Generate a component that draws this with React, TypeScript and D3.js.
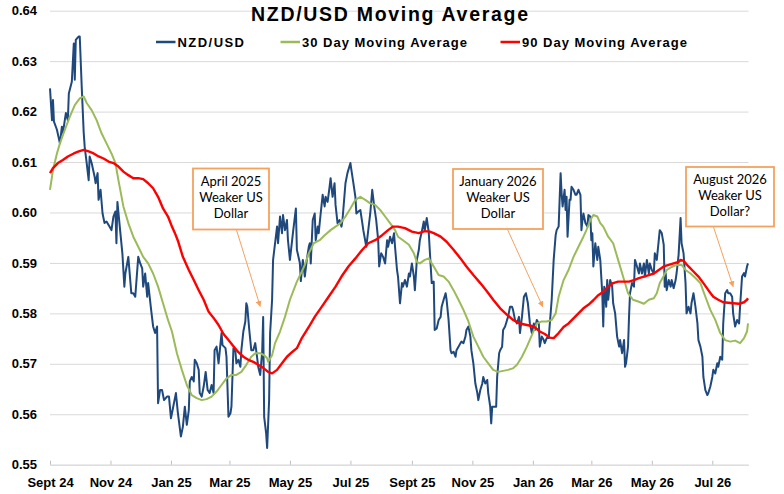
import React, { useEffect, useRef } from "react";
import * as d3 from "d3";

// series start; every point below is [days since START, rate]
const START = new Date(2024, 8, 1);
const LAST_DAY = 704.5;

const nzdusd: [number, number][] = [
  [0, 0.6246], [2, 0.6183], [3, 0.6223], [4, 0.618], [7, 0.6164], [10, 0.6137], [12, 0.617], [13, 0.6158],
  [16, 0.6197], [18, 0.6183], [19, 0.6236], [22, 0.6259], [24, 0.6335], [25, 0.6263], [26, 0.6342], [29, 0.6349],
  [30, 0.6349], [32, 0.6249], [34, 0.6158], [35, 0.613], [37, 0.6098], [39, 0.6064], [40, 0.6111], [42, 0.6098],
  [45, 0.6071], [46, 0.6058], [48, 0.6078], [49, 0.6025], [51, 0.6045], [53, 0.5998], [55, 0.5979], [57, 0.5982],
  [60, 0.5972], [62, 0.5965], [64, 0.5992], [66, 0.6002], [67, 0.5939], [68, 0.6021], [71, 0.5959], [73, 0.5919],
  [75, 0.5853], [76, 0.5879], [79, 0.5912], [82, 0.584], [84, 0.584], [86, 0.5833], [89, 0.5912], [91, 0.5899],
  [93, 0.5889], [94, 0.5853], [96, 0.5879], [98, 0.5833], [99, 0.586], [102, 0.5807], [104, 0.5774], [106, 0.5761],
  [108, 0.5774], [109, 0.5622], [111, 0.5648], [113, 0.5648], [115, 0.5628], [118, 0.5635], [120, 0.5635], [122, 0.5592],
  [124, 0.5612], [127, 0.5642], [129, 0.5602], [132, 0.5556], [134, 0.5575], [136, 0.5615], [138, 0.5579], [140, 0.5608],
  [141, 0.5665], [143, 0.5674], [145, 0.5665], [146, 0.5708], [148, 0.5701], [150, 0.5688], [151, 0.5642], [153, 0.5635],
  [155, 0.5655], [157, 0.5684], [159, 0.5648], [161, 0.5642], [163, 0.5658], [165, 0.5642], [166, 0.5727], [168, 0.5734],
  [170, 0.5701], [172, 0.5741], [173, 0.5761], [174, 0.5737], [177, 0.5731], [178, 0.5714], [180, 0.5595], [182, 0.5602],
  [183, 0.5615], [185, 0.5731], [187, 0.5724], [188, 0.5701], [190, 0.5708], [192, 0.5694], [193, 0.5727], [195, 0.5764],
  [197, 0.5784], [198, 0.582], [199, 0.5813], [201, 0.5767], [203, 0.5727], [205, 0.5727], [207, 0.5741], [209, 0.5711],
  [210, 0.5694], [212, 0.5678], [214, 0.5724], [215, 0.5793], [216, 0.5595], [218, 0.5562], [219, 0.5533], [221, 0.5628],
  [222, 0.5761], [224, 0.5827], [225, 0.5906], [229, 0.5972], [230, 0.5939], [232, 0.5992], [234, 0.5959], [235, 0.5995],
  [237, 0.5965], [239, 0.5985], [240, 0.5945], [242, 0.5906], [245, 0.5959], [248, 0.6008], [249, 0.5926], [252, 0.59],
  [253, 0.5864], [255, 0.5906], [257, 0.5873], [259, 0.5906], [261, 0.5932], [262, 0.5939], [263, 0.5899], [265, 0.5985],
  [267, 0.5998], [268, 0.5945], [270, 0.5972], [271, 0.5959], [273, 0.5998], [275, 0.6035], [277, 0.6012], [278, 0.6031],
  [280, 0.6021], [282, 0.6051], [283, 0.6068], [285, 0.6031], [287, 0.6058], [288, 0.6015], [290, 0.5979], [292, 0.5985],
  [294, 0.5972], [295, 0.5985], [298, 0.6058], [300, 0.6078], [303, 0.6098], [304, 0.6084], [306, 0.6058], [308, 0.6031],
  [309, 0.5998], [311, 0.6002], [313, 0.6005], [315, 0.5979], [316, 0.5965], [319, 0.5932], [321, 0.5965], [323, 0.5998],
  [325, 0.6045], [327, 0.6012], [329, 0.5985], [331, 0.5945], [332, 0.5893], [334, 0.5919], [336, 0.5912], [338, 0.5899],
  [340, 0.5945], [341, 0.5932], [343, 0.5952], [345, 0.5939], [347, 0.5959], [348, 0.5932], [350, 0.5886], [351, 0.5873],
  [353, 0.582], [355, 0.586], [356, 0.5853], [358, 0.5866], [360, 0.5853], [362, 0.5879], [363, 0.5873], [365, 0.5899],
  [367, 0.5873], [368, 0.5846], [370, 0.5906], [372, 0.5926], [373, 0.5945], [375, 0.5962], [377, 0.5982], [378, 0.5965],
  [380, 0.5989], [382, 0.5961], [383, 0.5926], [385, 0.586], [387, 0.5863], [388, 0.5767], [390, 0.577], [392, 0.5787],
  [394, 0.5793], [395, 0.5813], [397, 0.5827], [399, 0.584], [400, 0.5827], [402, 0.5787], [404, 0.5727], [405, 0.5721],
  [407, 0.5724], [409, 0.5714], [410, 0.5727], [412, 0.5734], [414, 0.5741], [415, 0.5744], [417, 0.5741], [419, 0.5754],
  [420, 0.5767], [422, 0.5774], [424, 0.5754], [425, 0.5727], [427, 0.5701], [429, 0.5661], [431, 0.5642], [432, 0.5628],
  [434, 0.5648], [436, 0.5661], [437, 0.5674], [439, 0.5661], [441, 0.5668], [442, 0.5642], [444, 0.5615], [445, 0.5582],
  [446, 0.5615], [448, 0.5615], [450, 0.5615], [451, 0.5674], [453, 0.5721], [454, 0.5727], [456, 0.5734], [457, 0.5767],
  [459, 0.5774], [461, 0.5787], [462, 0.5793], [464, 0.5813], [466, 0.5813], [467, 0.5807], [469, 0.5787], [471, 0.578],
  [473, 0.5793], [474, 0.5761], [476, 0.5793], [478, 0.5833], [480, 0.584], [482, 0.582], [484, 0.578], [486, 0.5761],
  [488, 0.578], [489, 0.5767], [491, 0.5787], [493, 0.578], [494, 0.5734], [496, 0.5754], [498, 0.5747], [499, 0.5741],
  [501, 0.5751], [503, 0.5751], [504, 0.5777], [506, 0.5827], [508, 0.5906], [510, 0.5955], [511, 0.5965], [513, 0.5972],
  [515, 0.6078], [516, 0.6038], [517, 0.6012], [519, 0.6045], [520, 0.6005], [521, 0.6031], [522, 0.5952], [524, 0.6025],
  [525, 0.6025], [526, 0.6051], [528, 0.6045], [530, 0.6035], [531, 0.6035], [533, 0.6045], [535, 0.6035], [536, 0.5965],
  [537, 0.5985], [538, 0.5998], [540, 0.5979], [542, 0.5972], [543, 0.5995], [545, 0.5992], [546, 0.5945], [547, 0.5959],
  [548, 0.5893], [550, 0.5939], [552, 0.5906], [553, 0.5932], [555, 0.5906], [557, 0.584], [558, 0.5774], [559, 0.5853],
  [561, 0.5813], [562, 0.5866], [563, 0.5827], [565, 0.5866], [567, 0.5853], [568, 0.582], [570, 0.58], [572, 0.5754],
  [574, 0.5734], [575, 0.5747], [577, 0.5721], [579, 0.5747], [580, 0.5694], [581, 0.5701], [583, 0.5734], [584, 0.5793],
  [585, 0.584], [587, 0.586], [589, 0.5853], [590, 0.5906], [592, 0.5893], [594, 0.5879], [595, 0.5899], [597, 0.5879],
  [599, 0.5899], [600, 0.5873], [602, 0.5906], [604, 0.5879], [605, 0.5899], [607, 0.5886], [609, 0.5879], [610, 0.5919],
  [612, 0.5906], [614, 0.5945], [615, 0.5965], [617, 0.5959], [619, 0.5936], [620, 0.5853], [621, 0.5879], [622, 0.5846],
  [624, 0.5866], [626, 0.5853], [627, 0.5866], [629, 0.585], [631, 0.5866], [632, 0.588], [634, 0.5916], [636, 0.5989],
  [637, 0.5939], [639, 0.5919], [641, 0.586], [642, 0.58], [644, 0.5813], [646, 0.58], [647, 0.582], [649, 0.584],
  [651, 0.5813], [653, 0.578], [654, 0.5747], [656, 0.5734], [658, 0.5714], [659, 0.5674], [661, 0.5648], [663, 0.5638],
  [664, 0.5642], [666, 0.5655], [668, 0.5674], [669, 0.5688], [671, 0.5681], [673, 0.5701], [674, 0.5694], [676, 0.5714],
  [678, 0.5708], [679, 0.578], [681, 0.584], [683, 0.5846], [684, 0.584], [686, 0.584], [688, 0.5833], [689, 0.58],
  [691, 0.5774], [693, 0.5787], [695, 0.578], [696, 0.5813], [698, 0.5873], [700, 0.588], [701, 0.5873], [703, 0.5893],
  [704, 0.5899],
];

const ma30: [number, number][] = [
  [0, 0.6045], [3, 0.6084], [7, 0.6117], [10, 0.6137], [15, 0.6164], [20, 0.619], [25, 0.6213], [30, 0.6226],
  [34, 0.623], [37, 0.6217], [42, 0.6203], [47, 0.6183], [52, 0.6157], [57, 0.6137], [62, 0.6117], [66, 0.6098],
  [69, 0.6064], [74, 0.6012], [79, 0.5979], [84, 0.5952], [89, 0.5932], [94, 0.5912], [99, 0.5899], [104, 0.5879],
  [109, 0.5853], [114, 0.582], [119, 0.5787], [123, 0.5764], [128, 0.5721], [133, 0.5688], [138, 0.5658], [143, 0.5638],
  [148, 0.5632], [153, 0.5628], [158, 0.563], [163, 0.5635], [168, 0.5645], [173, 0.5658], [178, 0.5671], [183, 0.5678],
  [188, 0.5678], [193, 0.5684], [198, 0.5698], [203, 0.5714], [207, 0.5721], [212, 0.5721], [216, 0.5717], [219, 0.5711],
  [220, 0.5704], [224, 0.5717], [227, 0.5741], [232, 0.5764], [237, 0.5793], [242, 0.5827], [249, 0.5863], [254, 0.5883],
  [257, 0.5896], [261, 0.5919], [266, 0.5939], [272, 0.5945], [277, 0.5955], [283, 0.5965], [288, 0.5972], [293, 0.5979],
  [298, 0.5992], [303, 0.6008], [308, 0.6025], [313, 0.6031], [318, 0.6025], [323, 0.6018], [328, 0.6015], [333, 0.6005],
  [338, 0.5992], [343, 0.5979], [348, 0.5965], [351, 0.5952], [356, 0.5945], [362, 0.5936], [367, 0.5919], [370, 0.5902],
  [373, 0.5899], [378, 0.5906], [382, 0.5909], [387, 0.5893], [392, 0.5876], [397, 0.5873], [402, 0.5863], [407, 0.5846],
  [412, 0.5827], [417, 0.5807], [422, 0.5784], [427, 0.5754], [432, 0.5734], [437, 0.5714], [442, 0.5701], [447, 0.5688],
  [452, 0.5684], [457, 0.5686], [462, 0.5688], [467, 0.5691], [471, 0.5698], [476, 0.5714], [481, 0.5734], [486, 0.5757],
  [491, 0.578], [496, 0.5784], [501, 0.5784], [506, 0.5787], [510, 0.58], [513, 0.5833], [518, 0.5866], [523, 0.5886],
  [528, 0.5912], [533, 0.5932], [538, 0.5952], [541, 0.5965], [545, 0.5985], [548, 0.5995], [552, 0.5992], [555, 0.5979],
  [558, 0.5972], [563, 0.5952], [568, 0.5939], [573, 0.5906], [578, 0.5873], [583, 0.584], [588, 0.5827], [594, 0.5823],
  [599, 0.5819], [604, 0.5827], [609, 0.583], [612, 0.584], [615, 0.586], [619, 0.5874], [622, 0.5886], [627, 0.5892],
  [632, 0.5896], [637, 0.5896], [641, 0.5886], [646, 0.5879], [651, 0.587], [656, 0.586], [661, 0.5833], [666, 0.5807],
  [671, 0.5787], [676, 0.5761], [681, 0.5747], [686, 0.5744], [691, 0.5746], [696, 0.5741], [700, 0.5751], [703, 0.5764],
  [704, 0.578],
];

const ma90: [number, number][] = [
  [0, 0.6078], [3, 0.6088], [8, 0.6098], [13, 0.6104], [18, 0.6111], [24, 0.6117], [29, 0.6121], [34, 0.6124],
  [39, 0.6121], [44, 0.6117], [49, 0.6111], [54, 0.6107], [59, 0.6101], [64, 0.6098], [69, 0.6091], [74, 0.6081],
  [79, 0.6074], [84, 0.6068], [89, 0.6068], [94, 0.6066], [99, 0.6058], [104, 0.6048], [109, 0.6031], [114, 0.6008],
  [119, 0.5992], [123, 0.5972], [126, 0.5959], [129, 0.5944], [134, 0.5912], [140, 0.5886], [145, 0.5866], [150, 0.5846],
  [155, 0.5827], [160, 0.5803], [165, 0.5791], [170, 0.5777], [175, 0.5759], [180, 0.5747], [185, 0.5735], [190, 0.5723],
  [195, 0.5714], [200, 0.5708], [205, 0.5704], [210, 0.5698], [215, 0.5692], [220, 0.5684], [224, 0.5681], [229, 0.5688],
  [234, 0.5701], [239, 0.5714], [244, 0.5723], [249, 0.5731], [254, 0.5751], [261, 0.5773], [267, 0.5793], [274, 0.5813],
  [281, 0.5833], [288, 0.5853], [294, 0.5873], [301, 0.5893], [308, 0.5909], [315, 0.5926], [321, 0.5939], [328, 0.5945],
  [335, 0.5955], [341, 0.5965], [346, 0.5972], [351, 0.5972], [358, 0.5969], [365, 0.5962], [372, 0.5959], [378, 0.5963],
  [383, 0.5962], [387, 0.5959], [394, 0.5952], [400, 0.5942], [407, 0.5926], [414, 0.5909], [420, 0.5893], [427, 0.5876],
  [434, 0.586], [441, 0.5843], [447, 0.5827], [454, 0.581], [461, 0.5797], [467, 0.5787], [474, 0.578], [481, 0.5777],
  [488, 0.5774], [494, 0.5764], [499, 0.5759], [504, 0.5752], [508, 0.5751], [513, 0.5761], [518, 0.5773], [523, 0.578],
  [528, 0.579], [533, 0.58], [538, 0.581], [543, 0.5817], [548, 0.5826], [553, 0.5836], [558, 0.5843], [563, 0.5853],
  [568, 0.586], [573, 0.5863], [578, 0.5863], [584, 0.5863], [589, 0.5866], [594, 0.587], [599, 0.5873], [604, 0.5876],
  [609, 0.5879], [614, 0.5886], [619, 0.5893], [624, 0.5896], [629, 0.5899], [634, 0.5902], [636, 0.5906], [639, 0.5904],
  [644, 0.5893], [649, 0.5883], [654, 0.5873], [659, 0.586], [664, 0.5846], [669, 0.5833], [674, 0.5827], [679, 0.5822],
  [684, 0.5821], [689, 0.582], [695, 0.5819], [700, 0.5822], [703, 0.5827], [704, 0.583],
];

const yTicks = [0.55, 0.56, 0.57, 0.58, 0.59, 0.6, 0.61, 0.62, 0.63, 0.64];
const xTickLabels = [
  "Sept 24", "Nov 24", "Jan 25", "Mar 25", "May 25", "Jul 25",
  "Sept 25", "Nov 25", "Jan 26", "Mar 26", "May 26", "Jul 26",
];

const seriesNames = ["NZD/USD", "30 Day Moving Average", "90 Day Moving Average"];
const seriesColors = ["#1F497D", "#9BBB59", "#FF0000"];

// annotation text and the day/rate its arrow points at
const noteLines = [
  ["April 2025", "Weaker US", "Dollar"],
  ["January 2026", "Weaker US", "Dollar"],
  ["August 2026", "Weaker US", "Dollar?"],
];
const noteTargets: [number, number][] = [
  [212, 0.5814],
  [497, 0.5813],
  [689, 0.5853],
];

const ARIAL = "'Liberation Sans', Arial, sans-serif";

const App: React.FC = () => {
  const svgRef = useRef<SVGSVGElement>(null);

  useEffect(() => {
    document.body.style.margin = "0";
    if (!svgRef.current) return;

    const svg = d3.select(svgRef.current);
    svg.selectAll("*").remove();

    const left = 50;
    const right = 748.5;
    const top = 10.7;
    const bottom = 464.7;

    const toDate = (d: number) => new Date(START.getTime() + d * 86400000);

    const x = d3.scaleTime().domain([START, toDate(LAST_DAY)]).range([left, right]);
    const y = d3.scaleLinear().domain([0.55, 0.64]).range([bottom, top]);

    // y gridlines + labels
    const gy = svg
      .append("g")
      .attr("transform", `translate(${left},0)`)
      .call(
        d3
          .axisLeft(y)
          .tickValues(yTicks)
          .tickSize(-(right - left))
          .tickPadding(13)
          .tickFormat(d3.format(".2f"))
      );
    gy.select(".domain").remove();
    gy.selectAll(".tick line").attr("stroke", "#d9d9d9").attr("stroke-width", 1);
    gy.selectAll("text")
      .attr("font-family", ARIAL)
      .attr("font-weight", "bold")
      .attr("font-size", 13)
      .attr("fill", "#000");

    // x axis
    const tickDates = d3.timeMonth.every(2)!.range(START, toDate(LAST_DAY));
    const gx = svg
      .append("g")
      .attr("transform", `translate(0,${bottom})`)
      .call(
        d3
          .axisBottom(x)
          .tickValues(tickDates)
          .tickSizeInner(-4)
          .tickSizeOuter(0)
          .tickPadding(13.5)
          .tickFormat((_, i) => xTickLabels[i])
      );
    gx.select(".domain").attr("stroke", "#d9d9d9");
    gx.selectAll(".tick line").attr("stroke", "#bfbfbf");
    gx.selectAll("text")
      .attr("font-family", ARIAL)
      .attr("font-weight", "bold")
      .attr("font-size", 13)
      .attr("fill", "#000");

    const line = d3
      .line<[number, number]>()
      .x((d) => x(toDate(d[0])))
      .y((d) => y(d[1]));

    [nzdusd, ma30, ma90].forEach((s, i) => {
      svg
        .append("path")
        .datum(s)
        .attr("d", line)
        .attr("fill", "none")
        .attr("stroke", seriesColors[i])
        .attr("stroke-width", i === 2 ? 2.4 : 2)
        .attr("stroke-linejoin", "round");
    });

    // title
    svg
      .append("text")
      .attr("x", 251)
      .attr("y", 20.7)
      .attr("font-family", ARIAL)
      .attr("font-weight", "bold")
      .attr("font-size", 19.5)
      .attr("textLength", 277)
      .attr("lengthAdjust", "spacing")
      .attr("fill", "#000")
      .text("NZD/USD Moving Average");

    // legend
    const legendX = [156, 280.5, 500.5];
    const legendTextWidth = [66.5, 165, 165];
    const legend = svg
      .selectAll(".legend")
      .data(seriesNames)
      .enter()
      .append("g")
      .attr("class", "legend")
      .attr("transform", (_, i) => `translate(${legendX[i]},42)`);
    legend
      .append("line")
      .attr("x1", 0)
      .attr("x2", 19.5)
      .attr("stroke", (_, i) => seriesColors[i])
      .attr("stroke-width", 2.5);
    legend
      .append("text")
      .attr("x", 21.5)
      .attr("y", 4.7)
      .attr("font-family", ARIAL)
      .attr("font-weight", "bold")
      .attr("font-size", 13)
      .attr("textLength", (_, i) => legendTextWidth[i])
      .attr("lengthAdjust", "spacing")
      .attr("fill", "#000")
      .text((d) => d);

    // annotation boxes + arrows
    const orange = "#F4A25F";
    svg
      .append("defs")
      .append("marker")
      .attr("id", "arrowHead")
      .attr("viewBox", "0 0 10 10")
      .attr("refX", 9)
      .attr("refY", 5)
      .attr("markerWidth", 6)
      .attr("markerHeight", 6)
      .attr("orient", "auto")
      .append("path")
      .attr("d", "M0,0L10,5L0,10z")
      .attr("fill", orange);

    const boxes = [
      { x: 193, y: 168.5, w: 76, h: 61 },
      { x: 453, y: 169, w: 90, h: 60 },
      { x: 686, y: 167, w: 88, h: 59.5 },
    ];
    const arrowFrom: [number, number][] = [
      [236.5, 230],
      [507.5, 229.5],
      [713.5, 227],
    ];

    boxes.forEach((b, i) => {
      const [td, tv] = noteTargets[i];
      svg
        .append("line")
        .attr("x1", arrowFrom[i][0])
        .attr("y1", arrowFrom[i][1])
        .attr("x2", x(toDate(td)))
        .attr("y2", y(tv))
        .attr("stroke", orange)
        .attr("stroke-width", 1)
        .attr("marker-end", "url(#arrowHead)");
      svg
        .append("rect")
        .attr("x", b.x)
        .attr("y", b.y)
        .attr("width", b.w)
        .attr("height", b.h)
        .attr("fill", "#fff")
        .attr("stroke", orange)
        .attr("stroke-width", 1.8);
      svg
        .append("g")
        .selectAll("text")
        .data(noteLines[i])
        .enter()
        .append("text")
        .attr("x", b.x + b.w / 2)
        .attr("y", (_, j) => b.y + 17.3 + j * 16)
        .attr("text-anchor", "middle")
        .attr("font-family", "Lato, 'Open Sans', sans-serif")
        .attr("font-size", 13)
        .attr("fill", "#000")
        .text((d) => d);
    });
  }, []);

  return (
    <svg
      ref={svgRef}
      width={784}
      height={494}
      style={{ position: "absolute", left: 0, top: 0, background: "#fff", display: "block" }}
    />
  );
};

export default App;
